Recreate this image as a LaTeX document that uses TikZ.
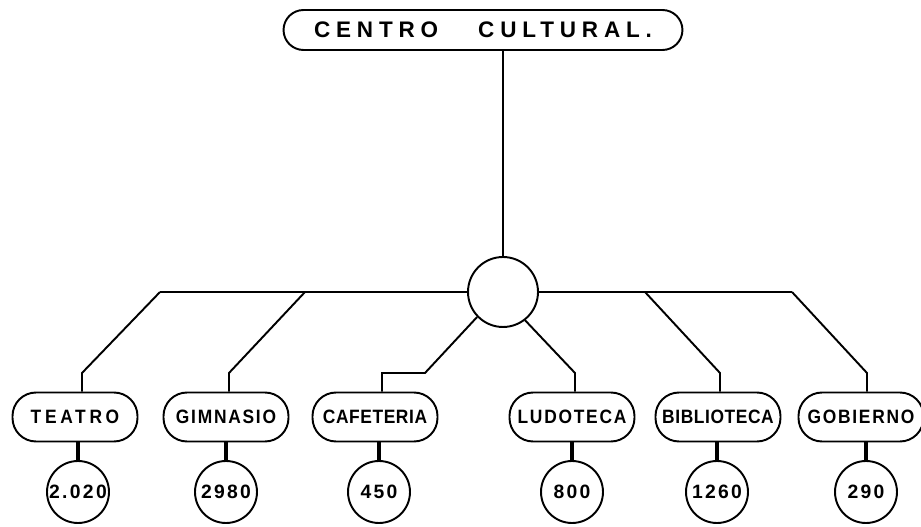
\documentclass[tikz,border=0pt]{standalone}
\usepackage{fontspec}
\newfontfamily\titulofont[LetterSpace=26]{Liberation Sans}
\newfontfamily\rotulo[LetterSpace=9,FakeStretch=0.9]{Liberation Sans}
\newfontfamily\rotuloancho[LetterSpace=19,FakeStretch=0.9]{Liberation Sans}
\newfontfamily\rotuloestrecho[LetterSpace=3,FakeStretch=0.9]{Liberation Sans}
\newfontfamily\cifra[LetterSpace=12]{Liberation Sans}
\begin{document}
\begin{tikzpicture}[x=0.02cm,y=-0.02cm,line width=1.1pt,
  titulo/.style={draw,rounded corners=0.4cm,minimum width=7.98cm,minimum height=0.8cm,
    font=\fontsize{12.8}{14}\titulofont\bfseries},
  area/.style={draw,rounded corners=0.47cm,minimum width=2.5cm,minimum height=0.98cm,inner sep=1pt,
    font=\fontsize{11}{12}\rotulo\bfseries},
  ancho/.style={font=\fontsize{11}{12}\rotuloancho\bfseries},
  estrecho/.style={font=\fontsize{11}{12}\rotuloestrecho\bfseries},
  valor/.style={circle,draw,minimum size=1.24cm,inner sep=0pt,
    font=\fontsize{11}{12}\cifra\bfseries},
  enlace/.style={line width=2.3pt}]
\useasboundingbox (0,0) rectangle (921,527);
\node[titulo] (titulo) at (483,30) {CENTRO\hspace{0.8cm}CULTURAL.};
\node[circle,draw,minimum size=1.4cm] (centro) at (503,292) {};
\node[area,ancho] (teatro) at (75,417) {TEATRO};
\node[area] (gimnasio) at (226,417) {GIMNASIO};
\node[area,estrecho] (cafeteria) at (375,417) {CAFETERIA};
\node[area] (ludoteca) at (572,417) {LUDOTECA};
\node[area,estrecho] (biblioteca) at (718,417) {BIBLIOTECA};
\node[area] (gobierno) at (861,417) {GOBIERNO};
\node[valor] (vTea) at (78,492) {2.020};
\node[valor] (vGim) at (226,492) {2980};
\node[valor] (vCaf) at (379,492) {450};
\node[valor] (vLud) at (572,492) {800};
\node[valor] (vBib) at (717,492) {1260};
\node[valor] (vGob) at (866,492) {290};
% quiebres de las ramas
\coordinate (jTea) at (160,292); \coordinate (kTea) at (82,373);
\coordinate (jGim) at (305,292); \coordinate (kGim) at (229,373);
\coordinate (jCaf) at (425,373); \coordinate (kCaf) at (382,373);
\coordinate (kLud) at (575,373);
\coordinate (jBib) at (645,292); \coordinate (kBib) at (720,373);
\coordinate (jGob) at (792,292); \coordinate (kGob) at (867,373);
\draw (centro.north |- titulo.south) -- (centro.north);
\draw (centro.west) -- (jTea);
\draw (centro.east) -- (jGob);
\draw (jTea) -- (kTea) -- (kTea |- teatro.north);
\draw (jGim) -- (kGim) -- (kGim |- gimnasio.north);
\draw (centro.224) -- (jCaf) -- (kCaf) -- (kCaf |- cafeteria.north);
\draw (centro.-52) -- (kLud) -- (kLud |- ludoteca.north);
\draw (jBib) -- (kBib) -- (kBib |- biblioteca.north);
\draw (jGob) -- (kGob) -- (kGob |- gobierno.north);
% areas con sus valores
\draw[enlace] (vTea.north |- teatro.south) -- (vTea.north);
\draw[enlace] (vGim.north |- gimnasio.south) -- (vGim.north);
\draw[enlace] (vCaf.north |- cafeteria.south) -- (vCaf.north);
\draw[enlace] (vLud.north |- ludoteca.south) -- (vLud.north);
\draw[enlace] (vBib.north |- biblioteca.south) -- (vBib.north);
\draw[enlace] (vGob.north |- gobierno.south) -- (vGob.north);
\end{tikzpicture}
\end{document}
